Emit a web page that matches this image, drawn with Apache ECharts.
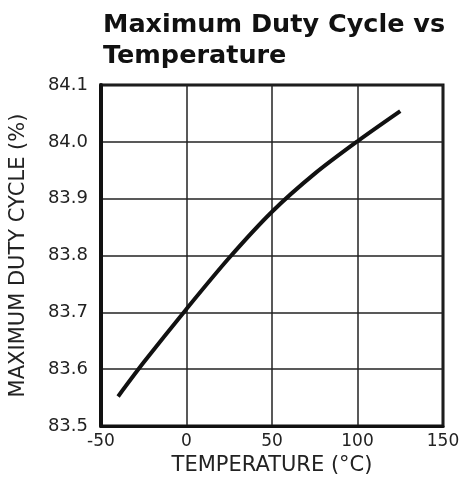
<!DOCTYPE html>
<html>
<head>
<meta charset="utf-8">
<script src="https://cdn.jsdelivr.net/npm/echarts@6/dist/echarts.min.js"></script>
<style>
  html, body { margin: 0; padding: 0; background: #fff; }
  #chart { width: 464px; height: 488px; }
</style>
</head>
<body>
<div id="chart"></div>
<script>
// temperature (°C) and max duty cycle (%)
const temperature = [-40, -25, 0, 25, 50, 75, 100, 125]
const dutyCycle = [83.552, 83.612, 83.706, 83.796, 83.877, 83.944, 84.001, 84.054]

const xTicks = [-50, 0, 50, 100, 150]
const yTicks = [83.5, 83.6, 83.7, 83.8, 83.9, 84.0, 84.1]

const font = 'DejaVu Sans'
const chart = echarts.init(document.getElementById('chart'))

chart.setOption({
  animation: false,
  backgroundColor: '#fff',
  title: {
    text: 'Maximum Duty Cycle vs\nTemperature',
    left: 103,
    top: 10,
    padding: 0,
    textStyle: { fontFamily: font, fontSize: 25.5, fontWeight: 'bold', color: '#111', lineHeight: 31 }
  },
  grid: {
    left: 101, right: 21, top: 85, bottom: 62,
    show: true, borderColor: '#111', borderWidth: 3, backgroundColor: 'transparent'
  },
  xAxis: {
    type: 'value',
    min: xTicks[0], max: xTicks[xTicks.length - 1], interval: 50,
    name: 'TEMPERATURE (°C)',
    nameLocation: 'middle',
    nameGap: 20,
    nameTextStyle: { fontFamily: font, fontSize: 21, color: '#222' },
    axisLine: { show: true, onZero: false, lineStyle: { color: '#111', width: 3 } },
    axisTick: { show: false },
    axisLabel: { fontFamily: font, fontSize: 17, color: '#222', margin: 7 },
    splitLine: { show: true, lineStyle: { color: '#222', width: 1.5 } }
  },
  yAxis: {
    type: 'value',
    min: yTicks[0], max: yTicks[yTicks.length - 1], interval: 0.1,
    name: 'MAXIMUM DUTY CYCLE (%)',
    nameLocation: 'middle',
    nameGap: 72,
    nameTextStyle: { fontFamily: font, fontSize: 21, color: '#222' },
    axisLine: { show: true, onZero: false, lineStyle: { color: '#111', width: 4 } },
    axisTick: { show: false },
    axisLabel: {
      fontFamily: font, fontSize: 18, color: '#222', margin: 13,
      formatter: v => v.toFixed(1)
    },
    splitLine: { show: true, lineStyle: { color: '#222', width: 1.5 } }
  },
  series: [{
    type: 'line',
    smooth: 0.3,
    symbol: 'none',
    data: temperature.map((t, i) => [t, dutyCycle[i]]),
    lineStyle: { color: '#111', width: 4 }
  }]
})
</script>
</body>
</html>
